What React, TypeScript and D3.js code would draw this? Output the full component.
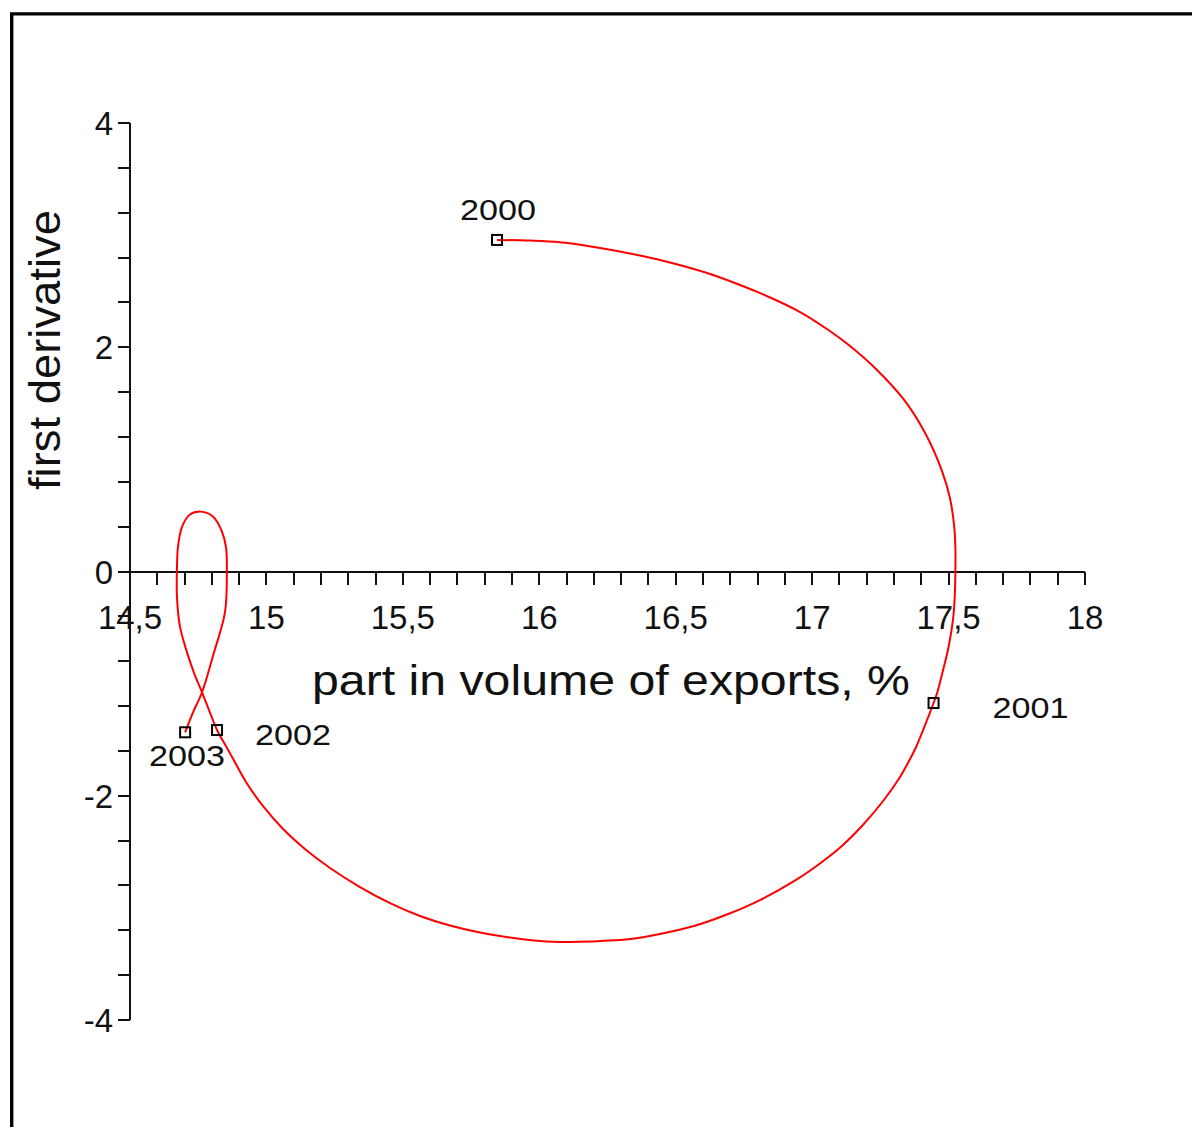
import React from "react";
import * as d3 from "d3";

// Yearly observations: share of export volume (%) and its first derivative
const years = ["2000", "2001", "2002", "2003"];
const yearShare = [15.845, 17.445, 14.819, 14.702];
const yearDeriv = [2.957, -1.173, -1.414, -1.434];

// Phase trajectory (share vs. derivative) running through the yearly points
const traceShare = [
  15.845, 15.966, 16.076, 16.223, 16.369, 16.479, 16.615, 16.736, 16.846, 16.956,
  17.065, 17.139, 17.234, 17.337, 17.414, 17.476, 17.505, 17.52, 17.525, 17.525,
  17.522, 17.516, 17.5, 17.48, 17.458, 17.445, 17.417, 17.381, 17.351, 17.315,
  17.263, 17.186, 17.113, 17.036, 16.941, 16.809, 16.692, 16.567, 16.442, 16.333,
  16.186, 16.102, 16.003, 15.893, 15.783, 15.673, 15.563, 15.453, 15.343, 15.233,
  15.141, 15.061, 14.987, 14.925, 14.874, 14.841, 14.819, 14.793, 14.764, 14.738,
  14.709, 14.683, 14.672, 14.672, 14.676, 14.691, 14.72, 14.76, 14.804, 14.837,
  14.852, 14.855, 14.848, 14.808, 14.764, 14.731, 14.702,
];
const traceDeriv = [
  2.957, 2.951, 2.936, 2.885, 2.818, 2.756, 2.662, 2.555, 2.444, 2.314,
  2.145, 2.011, 1.806, 1.53, 1.235, 0.896, 0.656, 0.415, 0.21, 0.0,
  -0.254, -0.433, -0.673, -0.878, -1.084, -1.173, -1.351, -1.565, -1.708, -1.86,
  -2.038, -2.261, -2.439, -2.591, -2.751, -2.93, -3.055, -3.162, -3.233, -3.278,
  -3.3, -3.304, -3.295, -3.264, -3.22, -3.157, -3.072, -2.957, -2.814, -2.644,
  -2.475, -2.297, -2.091, -1.877, -1.654, -1.512, -1.414, -1.258, -1.077, -0.926,
  -0.721, -0.49, -0.223, 0.018, 0.223, 0.401, 0.508, 0.534, 0.49, 0.356,
  0.214, 0.0, -0.365, -0.721, -1.077, -1.256, -1.434,
];

// Axis ticks and labels
const xMajor = [14.5, 15, 15.5, 16, 16.5, 17, 17.5, 18];
const xMajorLabels = ["14,5", "15", "15,5", "16", "16,5", "17", "17,5", "18"];
const yMajor = [4, 2, 0, -2, -4];
const yMajorLabels = ["4", "2", "0", "-2", "-4"];
const xMinorStep = 0.1;
const yMinorStep = 0.4;

const xTitle = "part in volume of exports, %";
const yTitle = "first derivative";

// label placement relative to each year's marker: [dx, dy, anchor]
const yearLabelOffsets: [number, number, string][] = [
  [1, -20, "middle"],
  [59, 15, "start"],
  [38, 15, "start"],
  [2, 34, "middle"],
];

const W = 1192;
const H = 1127;
const FONT = "'Liberation Sans', Arial, sans-serif";

export default function App() {
  const x = d3.scaleLinear().domain([14.5, 18]).range([130, 1085]);
  const y = d3.scaleLinear().domain([-4, 4]).range([1020, 123]);

  const xMinor = d3.range(0, Math.round((18 - 14.5) / xMinorStep) + 1).map((i) => 14.5 + i * xMinorStep);
  const yMinor = d3.range(0, Math.round(8 / yMinorStep) + 1).map((i) => -4 + i * yMinorStep);

  const pts: [number, number][] = traceShare.map((s, i) => [s, traceDeriv[i]]);
  const line = d3
    .line<[number, number]>()
    .x((d) => x(d[0]))
    .y((d) => y(d[1]))
    .curve(d3.curveCatmullRom.alpha(0.5));

  const x0 = x(14.5);
  const y0 = y(0);
  const axisColor = "#111";

  return (
    <svg
      width={W}
      height={H}
      viewBox={`0 0 ${W} ${H}`}
      style={{ position: "absolute", left: 0, top: 0, background: "#fff" }}
    >
      <rect x={0} y={0} width={W} height={H} fill="#fff" />
      {/* outer frame (left and top edges visible) */}
      <path d={`M11.7,${H + 10} L11.7,13.9 L${W + 10},13.9`} fill="none" stroke="#000" strokeWidth={3.4} />

      {/* x tick labels */}
      {xMajor.map((v, i) => (
        <text
          key={"xl" + i}
          x={x(v)}
          y={629}
          textAnchor="middle"
          fontFamily={FONT}
          fontSize={33}
          fill="#111"
        >
          {xMajorLabels[i]}
        </text>
      ))}

      {/* y tick labels */}
      {yMajor.map((v, i) => (
        <text
          key={"yl" + i}
          x={113}
          y={y(v) + 12}
          textAnchor="end"
          fontFamily={FONT}
          fontSize={33}
          fill="#111"
        >
          {yMajorLabels[i]}
        </text>
      ))}

      {/* axes */}
      <g shapeRendering="crispEdges" stroke={axisColor} strokeWidth={2}>
        <line x1={x0} y1={y(4)} x2={x0} y2={y(-4)} />
        <line x1={x0} y1={y0} x2={x(18)} y2={y0} />
        {xMinor.map((v, i) => (
          <line key={"xt" + i} x1={x(v)} y1={y0} x2={x(v)} y2={y0 + 13} />
        ))}
        {yMinor.map((v, i) => (
          <line key={"yt" + i} x1={x0 - 12} y1={y(v)} x2={x0} y2={y(v)} />
        ))}
      </g>

      {/* axis titles */}
      <text
        x={312}
        y={695}
        fontFamily={FONT}
        fontSize={42}
        fill="#111"
        textLength={598}
        lengthAdjust="spacingAndGlyphs"
      >
        {xTitle}
      </text>
      <text
        transform="translate(60,490) rotate(-90)"
        x={0}
        y={0}
        fontFamily={FONT}
        fontSize={44}
        fill="#111"
        textLength={280}
        lengthAdjust="spacingAndGlyphs"
      >
        {yTitle}
      </text>

      {/* trajectory */}
      <path d={line(pts) || ""} fill="none" stroke="#ff0000" strokeWidth={2} />

      {/* yearly markers and labels */}
      {years.map((yr, i) => {
        const cx = x(yearShare[i]);
        const cy = y(yearDeriv[i]);
        const [dx, dy, anchor] = yearLabelOffsets[i];
        return (
          <g key={yr}>
            <rect x={cx - 5} y={cy - 5} width={10} height={10} fill="none" stroke="#000" strokeWidth={2} />
            <text
              x={cx + dx}
              y={cy + dy}
              textAnchor={anchor as any}
              fontFamily={FONT}
              fontSize={29}
              fill="#111"
              textLength={76}
              lengthAdjust="spacingAndGlyphs"
            >
              {yr}
            </text>
          </g>
        );
      })}
    </svg>
  );
}
